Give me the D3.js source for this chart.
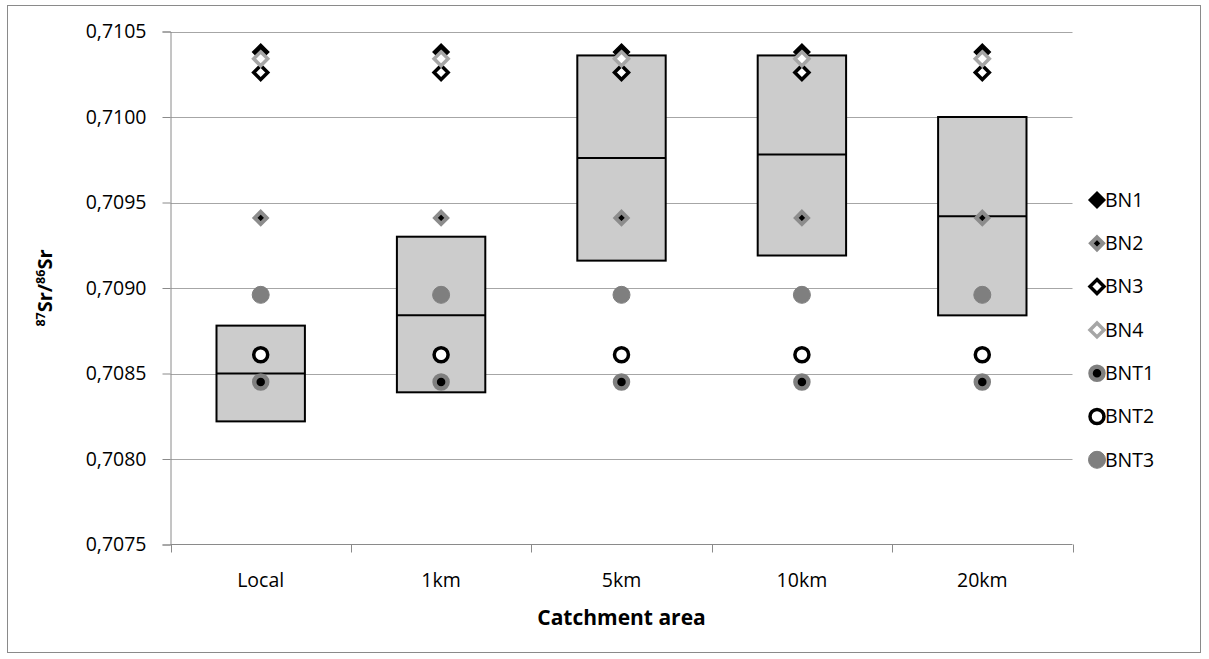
<!DOCTYPE html>
<html>
<head>
<meta charset="utf-8">
<script src="https://cdn.jsdelivr.net/npm/d3@7"></script>
<style>
  html, body { margin: 0; padding: 0; background: #fff; }
  svg { display: block; font-family: "Open Sans", "Noto Sans", sans-serif; }
</style>
</head>
<body>
<svg id="chart" width="1209" height="659"></svg>
<script>
// Catchment areas along the x axis
const categories = ["Local", "1km", "5km", "10km", "20km"];

// Range boxes per catchment area (top, median line, bottom)
const boxTop    = [0.70878, 0.70930, 0.71036, 0.71036, 0.71000];
const boxMedian = [0.70850, 0.70884, 0.70976, 0.70978, 0.70942];
const boxBottom = [0.70822, 0.70839, 0.70916, 0.70919, 0.70884];

// Sample values, one per catchment area
const BN1  = [0.71038, 0.71038, 0.71038, 0.71038, 0.71038];
const BN2  = [0.70941, 0.70941, 0.70941, 0.70941, 0.70941];
const BN3  = [0.71026, 0.71026, 0.71026, 0.71026, 0.71026];
const BN4  = [0.71034, 0.71034, 0.71034, 0.71034, 0.71034];
const BNT1 = [0.70845, 0.70845, 0.70845, 0.70845, 0.70845];
const BNT2 = [0.70861, 0.70861, 0.70861, 0.70861, 0.70861];
const BNT3 = [0.70896, 0.70896, 0.70896, 0.70896, 0.70896];

const seriesNames = ["BN1", "BN2", "BN3", "BN4", "BNT1", "BNT2", "BNT3"];
const seriesValues = [BN1, BN2, BN3, BN4, BNT1, BNT2, BNT3];

// Y axis ticks and their printed labels (comma decimal)
const yTicks = [0.7075, 0.7080, 0.7085, 0.7090, 0.7095, 0.7100, 0.7105];
const yTickLabels = ["0,7075", "0,7080", "0,7085", "0,7090", "0,7095", "0,7100", "0,7105"];

const xTitle = "Catchment area";

// Marker styles for each series
const markerStyle = {
  BN1:  { shape: "diamond", r: 8,   fill: "#000000", stroke: "#000000", sw: 1.5 },
  BN2:  { shape: "diamond", r: 6,   fill: "#000000", stroke: "#8c8c8c", sw: 4 },
  BN3:  { shape: "diamond", r: 7,   fill: "#ffffff", stroke: "#000000", sw: 3.5 },
  BN4:  { shape: "diamond", r: 7,   fill: "#ffffff", stroke: "#a6a6a6", sw: 3.5 },
  BNT1: { shape: "circle",  r: 6.5, fill: "#000000", stroke: "#7f7f7f", sw: 4.5 },
  BNT2: { shape: "circle",  r: 7,   fill: "#ffffff", stroke: "#000000", sw: 3.5 },
  BNT3: { shape: "circle",  r: 8.5, fill: "#7f7f7f", stroke: "#7f7f7f", sw: 1 }
};

const svg = d3.select("#chart");

// Chart-area frame
svg.append("rect")
  .attr("x", 7.5).attr("y", 5.5)
  .attr("width", 1193).attr("height", 647)
  .attr("fill", "#fff").attr("stroke", "#8a8a8a").attr("stroke-width", 1);

const plot = { left: 170.5, right: 1072.5, top: 31.5, bottom: 544.5 };

const x = d3.scaleBand().domain(categories).range([plot.left, plot.right]);
const y = d3.scaleLinear().domain([0.7075, 0.7105]).range([plot.bottom, plot.top]);

// Horizontal gridlines
svg.append("g").selectAll("line")
  .data(yTicks.slice(1))
  .join("line")
  .attr("x1", plot.left).attr("x2", plot.right)
  .attr("y1", d => Math.round(y(d)) + 0.5).attr("y2", d => Math.round(y(d)) + 0.5)
  .attr("stroke", "#a6a6a6").attr("stroke-width", 1);

// Y axis
const yAxis = d3.axisLeft(y)
  .tickValues(yTicks)
  .tickSize(8)
  .tickPadding(16)
  .tickFormat((d, i) => yTickLabels[i]);
const gy = svg.append("g").attr("transform", `translate(${plot.left},0)`).call(yAxis);
gy.select(".domain").attr("stroke", "#8a8a8a");
gy.selectAll(".tick line").attr("stroke", "#8a8a8a");
gy.selectAll(".tick text").attr("font-size", 19.5).attr("fill", "#000")
  .attr("font-family", "'Open Sans', sans-serif");

// X axis: ticks on category boundaries
const gx = svg.append("g").attr("transform", `translate(0,${plot.bottom})`);
gx.append("line")
  .attr("x1", plot.left).attr("x2", plot.right)
  .attr("stroke", "#8a8a8a");
const boundaries = categories.map(c => x(c)).concat([x(categories[categories.length - 1]) + x.bandwidth()]);
gx.selectAll("line.tk").data(boundaries).join("line")
  .attr("class", "tk")
  .attr("x1", d => Math.round(d) + 0.5).attr("x2", d => Math.round(d) + 0.5)
  .attr("y1", 0).attr("y2", 8)
  .attr("stroke", "#8a8a8a");
gx.selectAll("text").data(categories).join("text")
  .attr("x", d => x(d) + x.bandwidth() / 2)
  .attr("y", 42)
  .attr("text-anchor", "middle")
  .attr("font-size", 19.5)
  .text(d => d);

// Range boxes
const boxW = x.bandwidth() * 0.49;
const boxes = svg.append("g");
categories.forEach((c, i) => {
  const cx = x(c) + x.bandwidth() / 2;
  boxes.append("rect")
    .attr("x", cx - boxW / 2)
    .attr("y", y(boxTop[i]))
    .attr("width", boxW)
    .attr("height", y(boxBottom[i]) - y(boxTop[i]))
    .attr("fill", "#cccccc")
    .attr("stroke", "#000").attr("stroke-width", 2);
  boxes.append("line")
    .attr("x1", cx - boxW / 2).attr("x2", cx + boxW / 2)
    .attr("y1", y(boxMedian[i])).attr("y2", y(boxMedian[i]))
    .attr("stroke", "#000").attr("stroke-width", 2);
});

function drawMarker(g, name, cx, cy) {
  const s = markerStyle[name];
  if (s.shape === "diamond") {
    const r = s.r;
    g.append("path")
      .attr("d", `M${cx},${cy - r}L${cx + r},${cy}L${cx},${cy + r}L${cx - r},${cy}Z`)
      .attr("fill", s.fill).attr("stroke", s.stroke)
      .attr("stroke-width", s.sw).attr("stroke-linejoin", "miter");
  } else {
    g.append("circle")
      .attr("cx", cx).attr("cy", cy).attr("r", s.r)
      .attr("fill", s.fill).attr("stroke", s.stroke).attr("stroke-width", s.sw);
  }
}

// Sample points
const pts = svg.append("g");
seriesNames.forEach((name, si) => {
  seriesValues[si].forEach((v, i) => {
    drawMarker(pts, name, x(categories[i]) + x.bandwidth() / 2, y(v));
  });
});

// Legend
const legend = svg.append("g");
seriesNames.forEach((name, i) => {
  const ly = 200 + i * 43.3;
  drawMarker(legend, name, 1097, ly);
  legend.append("text")
    .attr("x", 1105).attr("y", ly)
    .attr("dy", "0.35em")
    .attr("font-size", 19.5)
    .text(name);
});

// Axis titles
svg.append("text")
  .attr("x", (plot.left + plot.right) / 2)
  .attr("y", 625)
  .attr("text-anchor", "middle")
  .attr("font-size", 21)
  .attr("font-weight", "bold")
  .text(xTitle);

const yt = svg.append("text")
  .attr("transform", "translate(52,288) rotate(-90)")
  .attr("text-anchor", "middle")
  .attr("font-size", 20)
  .attr("font-weight", "bold");
yt.append("tspan").attr("font-size", 12.5).attr("dy", -7).text("87");
yt.append("tspan").attr("dy", 7).text("Sr/");
yt.append("tspan").attr("font-size", 12.5).attr("dy", -7).text("86");
yt.append("tspan").attr("dy", 7).text("Sr");
</script>
</body>
</html>
